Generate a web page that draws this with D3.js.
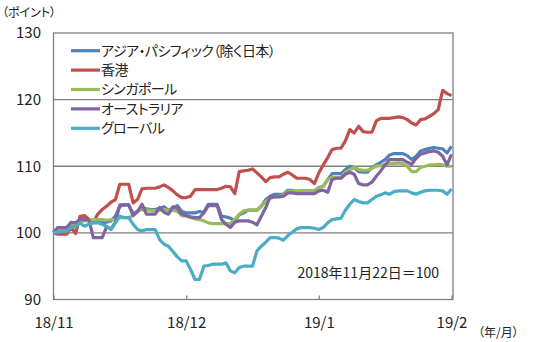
<!DOCTYPE html>
<html>
<head>
<meta charset="utf-8">
<script src="https://d3js.org/d3.v7.min.js"></script>
<style>
  body { margin: 0; background: #fff; }
  svg text { font-family: "Noto Sans CJK JP", "Noto Sans", sans-serif; fill: #222; font-feature-settings: "palt" 1; }
  .axis .domain { display: none; }
  .axis text { font-size: 14px; }
</style>
</head>
<body>
<div id="chart"></div>
<script>
// 日次指数（2018年11月22日＝100）、x は暦日の通し番号
const tickIndex = [0, 30, 60, 90];
const tickLabels = ["18/11", "18/12", "19/1", "19/2"];
const yTicks = [90, 100, 110, 120, 130];

const seriesNames = ["アジア・パシフィック（除く日本）", "香港", "シンガポール", "オーストラリア", "グローバル"];
const seriesColors = ["#4f81bd", "#c0504d", "#9bbb59", "#8064a2", "#4bacc6"];

const asiaPac = [100,100.8,100.8,100.8,101.5,101.4,102.0,102.3,101.8,101.8,
  101.7,101.5,101.6,101.8,102.5,104.0,104.2,104.2,102.9,103.2,
  103.8,103.6,103.5,103.5,103.7,103.9,103.4,103.7,104.1,103.2,
  103.0,103.0,103.0,103.2,103.1,104.3,104.3,104.3,102.5,102.4,
  102.2,101.8,102.7,103.0,103.4,103.4,103.4,104.0,105.0,105.5,
  105.8,105.8,105.8,106.4,106.4,106.2,106.3,106.3,106.3,106.3,
  106.8,107.0,108.0,108.9,108.9,108.9,109.5,110.0,109.8,109.2,
  109.1,109.1,109.8,110.2,110.6,111.0,111.7,111.9,111.9,111.9,
  111.6,111.0,111.5,112.3,112.5,112.7,112.8,112.7,112.6,112.0,113.0];

const hongKong = [100,99.8,99.8,99.8,100.8,99.9,102.5,102.6,102.0,101.6,
  102.8,103.5,104.0,104.6,105.0,107.3,107.3,107.3,104.5,105.0,
  106.6,106.7,106.7,106.7,106.9,107.2,106.8,106.3,105.7,105.3,
  105.3,105.5,106.5,106.5,106.5,106.5,106.5,106.5,106.7,107.0,
  106.9,105.9,109.2,109.3,109.4,109.6,109.0,108.4,107.7,108.3,
  108.4,108.4,108.8,109.1,108.7,108.2,108.2,108.2,108.0,107.4,
  109.0,110.2,111.3,112.5,112.7,112.7,113.8,115.5,115.0,116.0,
  115.2,115.1,115.1,116.8,117.2,117.2,117.2,117.3,117.4,117.3,
  117.0,116.5,116.2,117.0,117.1,117.5,117.9,118.5,121.4,120.9,120.6];

const singapore = [100,100.3,100.4,100.5,101.2,101.4,101.8,101.8,101.8,102.0,
  102.0,102.0,101.9,102.0,102.0,102.3,102.3,102.3,102.6,103.3,
  103.5,103.4,103.4,103.3,103.4,103.5,103.4,103.4,103.2,102.6,
  102.5,102.3,102.1,102.0,101.8,101.5,101.4,101.4,101.4,101.4,
  101.4,102.0,102.8,103.3,103.4,103.4,103.4,104.0,104.7,105.2,
  105.4,105.5,105.7,106.2,106.3,106.3,106.3,106.3,106.3,106.3,
  106.8,107.0,108.0,108.3,108.3,108.3,109.1,109.5,109.8,109.5,
  109.4,109.4,109.7,110.0,110.1,110.3,110.4,110.4,110.5,110.4,
  110.0,109.2,109.2,109.8,110.0,110.2,110.2,110.3,110.2,110.0,110.0];

const australia = [100,100.8,100.8,100.8,101.6,101.5,102.0,102.0,102.0,99.3,
  99.3,99.3,100.9,100.6,101.6,104.2,104.2,104.2,102.6,103.2,
  104.3,102.8,102.8,102.8,103.8,103.1,102.8,103.9,103.7,102.8,
  102.6,102.4,102.3,102.3,103.0,104.1,104.1,104.1,102.0,101.3,
  100.8,101.6,101.8,101.8,101.8,101.6,101.2,102.5,103.8,105.4,
  105.4,105.4,105.5,106.0,106.0,105.9,105.9,105.9,105.9,105.9,
  106.3,106.4,106.1,108.0,108.2,108.2,108.8,109.1,108.8,107.4,
  107.2,107.2,107.6,108.5,109.3,110.2,111.0,111.0,111.0,111.0,
  110.6,110.3,111.2,111.8,112.0,112.2,112.3,112.1,111.5,110.2,111.8];

const globalIdx = [100,100.1,100.2,100.3,100.8,101.0,101.5,101.0,101.3,101.5,
  101.5,101.3,101.0,100.5,101.5,102.5,102.3,102.3,101.3,100.5,
  100.3,100.5,100.5,100.5,99.0,98.3,98.0,97.2,96.4,95.8,
  95.8,94.5,93.0,93.0,95.0,95.1,95.3,95.3,95.3,95.5,
  94.3,94.0,94.8,95.0,95.0,95.0,97.3,98.0,98.6,99.3,
  99.3,99.2,98.9,99.6,100.1,100.6,100.8,100.8,100.8,100.7,
  100.5,100.8,101.5,102.0,102.1,102.2,103.4,104.3,105.0,104.7,
  104.5,104.5,105.0,105.5,105.7,106.0,105.8,106.2,106.3,106.3,
  106.3,106.0,105.8,106.1,106.3,106.4,106.4,106.4,106.3,105.8,106.6];

const seriesValues = [asiaPac, hongKong, singapore, australia, globalIdx];

const W = 550, H = 342;
const plot = { left: 53.5, right: 453, top: 33, bottom: 299.5 };

const svg = d3.select("#chart").append("svg")
  .attr("width", W).attr("height", H);

const x = d3.scaleLinear().domain([0, 90]).range([plot.left, 451.5]);
const y = d3.scaleLinear().domain([90, 130]).range([plot.bottom, plot.top]);

// 目盛線（100,110,120）
svg.append("g").selectAll("line")
  .data([100, 110, 120])
  .join("line")
  .attr("x1", plot.left).attr("x2", plot.right)
  .attr("y1", d => y(d)).attr("y2", d => y(d))
  .attr("stroke", "#7f7f7f").attr("stroke-width", 1.3);

// 枠
svg.append("rect")
  .attr("x", plot.left).attr("y", plot.top)
  .attr("width", plot.right - plot.left).attr("height", plot.bottom - plot.top)
  .attr("fill", "none").attr("stroke", "#7f7f7f").attr("stroke-width", 1.3);

// 系列
const line = d3.line().x((d, i) => x(i)).y(d => y(d));
svg.append("g").selectAll("path")
  .data(seriesValues)
  .join("path")
  .attr("d", d => line(d))
  .attr("fill", "none")
  .attr("stroke", (d, i) => seriesColors[i])
  .attr("stroke-width", 3.2)
  .attr("stroke-linejoin", "round");

// y 軸
svg.append("g")
  .attr("class", "axis")
  .attr("transform", `translate(${plot.left},0)`)
  .call(d3.axisLeft(y).tickValues(yTicks).tickSize(0).tickPadding(12.5))
  .selectAll("text").style("font-size", "15px");

// x 軸
const xAxis = svg.append("g")
  .attr("class", "axis")
  .attr("transform", `translate(0,${plot.bottom})`)
  .call(d3.axisBottom(x).tickValues(tickIndex)
    .tickFormat((d, i) => tickLabels[i])
    .tickSizeInner(-4).tickSizeOuter(0).tickPadding(18));
xAxis.selectAll(".tick line").attr("stroke", "#7f7f7f").attr("stroke-width", 1.3);
xAxis.selectAll("text").style("font-size", "15px");

// 単位
svg.append("text").attr("x", 2).attr("y", 17)
  .style("font-size", "12px").text("（ポイント）");
svg.append("text").attr("x", 478).attr("y", 337)
  .style("font-size", "12px").text("（年/月）");

// 基準日
svg.append("text").attr("x", 439).attr("y", 278)
  .attr("text-anchor", "end")
  .style("font-size", "14px").text("2018年11月22日＝100");

// 凡例
const legend = svg.append("g").selectAll("g")
  .data(seriesNames)
  .join("g")
  .attr("transform", (d, i) => `translate(71,${50.7 + i * 19.4})`);
legend.append("line")
  .attr("x1", 0).attr("x2", 29)
  .attr("stroke", (d, i) => seriesColors[i])
  .attr("stroke-width", 3.2);
legend.append("text")
  .attr("x", 30).attr("dy", "0.35em")
  .style("font-size", "14px")
  .style("letter-spacing", "-0.6px")
  .text(d => d);
</script>
</body>
</html>
